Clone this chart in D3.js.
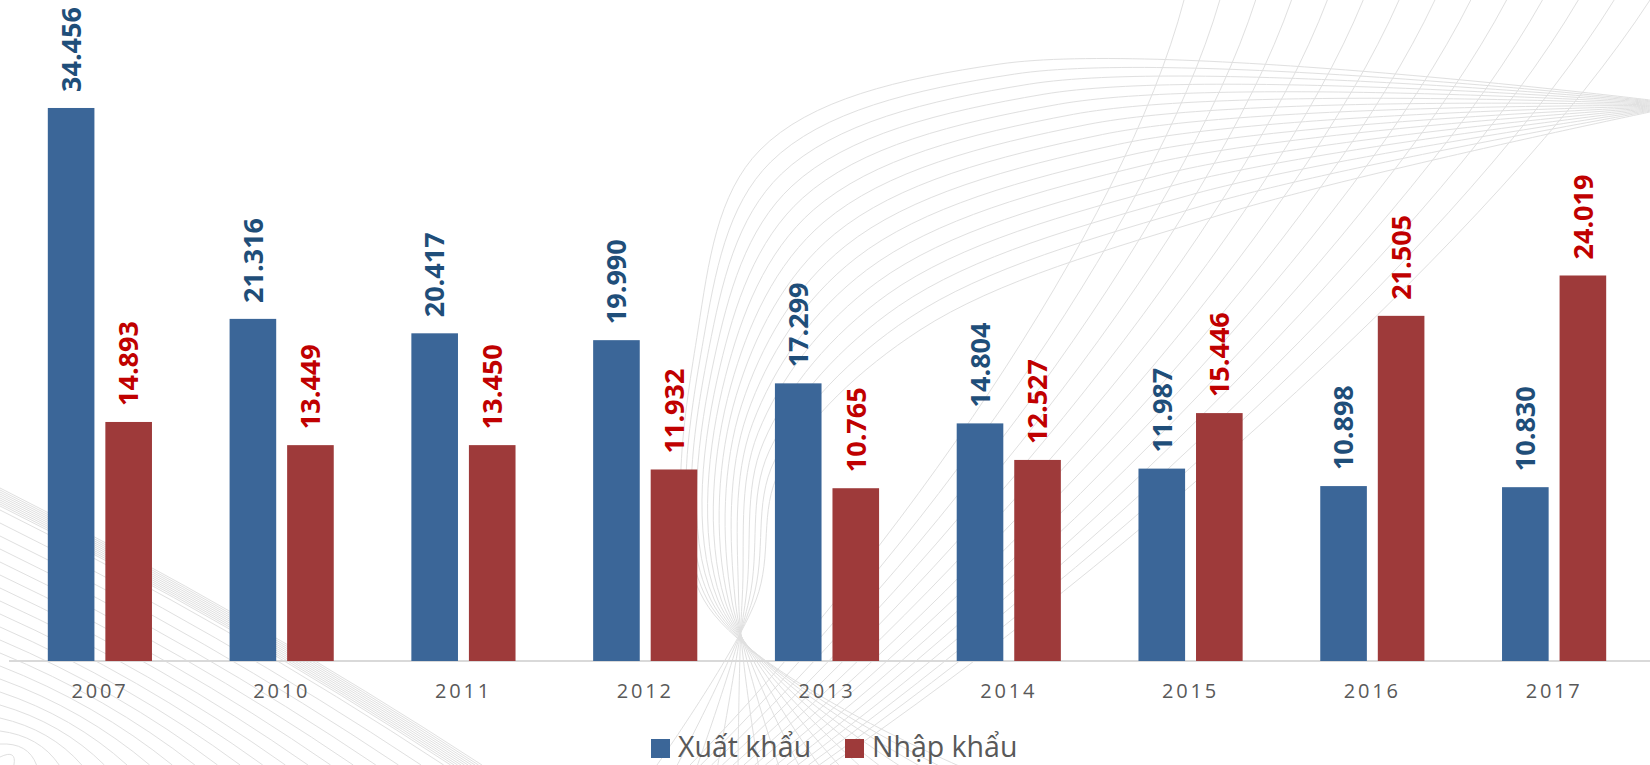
<!DOCTYPE html>
<html>
<head>
<meta charset="utf-8">
<script src="https://cdn.jsdelivr.net/npm/d3@7"></script>
<style>
  html, body { margin: 0; padding: 0; background: #fff; }
  svg { display: block; font-family: "Open Sans", "Noto Sans", sans-serif; }
</style>
</head>
<body>
<svg id="chart" width="1650" height="765"></svg>
<script>
// data
const years = ['2007', '2010', '2011', '2012', '2013', '2014', '2015', '2016', '2017'];
const exportVals = [34.456, 21.316, 20.417, 19.990, 17.299, 14.804, 11.987, 10.898, 10.830];
const importVals = [14.893, 13.449, 13.450, 11.932, 10.765, 12.527, 15.446, 21.505, 24.019];
const seriesNames = ['Xuất khẩu', 'Nhập khẩu'];

const barColors = ['#3b6698', '#9e3a3a'];
const labelColors = ['#1f4e79', '#c00000'];

const width = 1650, height = 765;
const svg = d3.select('#chart');
svg.append('rect').attr('width', width).attr('height', height).attr('fill', '#fff');

const lerp = (a, b, t) => a + (b - a) * t;

// decorative background mesh
const deco = svg.append('g')
  .attr('fill', 'none')
  .attr('stroke', '#d6d6d6')
  .attr('stroke-width', 1)
  .attr('opacity', 0.75);

// left fan
for (let k = 0; k < 30; k++) {
  const y0 = k < 10 ? 488 + k * 2 : 510 + (k - 10) * 13;
  const x1 = (765 - y0) * 1.74;
  const p = d3.path();
  p.moveTo(0, y0);
  p.quadraticCurveTo(x1 * 0.5 + 10, lerp(y0, 765, 0.5) - 12, x1, 765);
  deco.append('path').attr('d', p.toString());
}

// twisted family: arcs from the right edge, down through a loose waist, fanning out at the bottom
const smooth = d3.line().curve(d3.curveCatmullRom.alpha(0.5));
for (let i = 0; i < 16; i++) {
  const t = i / 15;
  const pts = [
    [1650, lerp(100, 112, t)],
    [lerp(1000, 1220, t), lerp(64, 215, t)],
    [lerp(760, 920, t), lerp(150, 330, t)],
    [lerp(698, 780, t), lerp(330, 470, t)],
    [lerp(704, 756, t), 600],
    [lerp(980, 650, t), 775]
  ];
  deco.append('path').attr('d', smooth(pts));
}

// steep family running to the top edge
for (let j = 0; j < 14; j++) {
  const s = j / 13;
  const x0 = lerp(690, 830, s), x3 = lerp(1184, 1650, s);
  const p = d3.path();
  p.moveTo(x0, 765);
  p.bezierCurveTo(x0 + lerp(200, 300, s), 560, x3 - lerp(60, 150, s), 230, x3, 0);
  deco.append('path').attr('d', p.toString());
}

// scales
const x0 = d3.scaleBand()
  .domain(years)
  .range([9, 1645])
  .paddingInner(0.427)
  .paddingOuter(0.2135);

const x1 = d3.scaleBand()
  .domain([0, 1])
  .range([0, x0.bandwidth()])
  .paddingInner(0.19);

const y = d3.scaleLinear().domain([0, 40]).range([661, 19]);

const rows = years.map((yr, i) => ({ year: yr, vals: [exportVals[i], importVals[i]] }));

// axis line + labels
const xAxis = svg.append('g')
  .attr('transform', `translate(0,${y(0)})`)
  .call(d3.axisBottom(x0).tickSize(0).tickPadding(37));
xAxis.select('.domain').attr('stroke', '#d9d9d9').attr('stroke-width', 2).attr('d', `M9,0H1650`);
xAxis.selectAll('text')
  .attr('font-family', '"Open Sans", sans-serif')
  .attr('font-size', 20)
  .attr('fill', '#595959')
  .attr('letter-spacing', '2.8px')
  .attr('dy', 0);

// bars
const groups = svg.append('g').selectAll('g')
  .data(rows)
  .join('g')
  .attr('transform', d => `translate(${x0(d.year)},0)`);

groups.selectAll('rect')
  .data(d => d.vals.map((v, s) => ({ v, s })))
  .join('rect')
  .attr('x', d => x1(d.s))
  .attr('width', x1.bandwidth())
  .attr('y', d => y(d.v))
  .attr('height', d => y(0) - y(d.v))
  .attr('fill', d => barColors[d.s]);

groups.selectAll('text')
  .data(d => d.vals.map((v, s) => ({ v, s })))
  .join('text')
  .attr('transform', d => `translate(${x1(d.s) + x1.bandwidth() / 2},${y(d.v) - 16}) rotate(-90)`)
  .attr('dy', '0.36em')
  .attr('text-anchor', 'start')
  .attr('font-size', 27)
  .attr('font-weight', 700)
  .attr('fill', d => labelColors[d.s])
  .text(d => d3.format('.3f')(d.v));

// legend
const legend = svg.append('g').attr('transform', 'translate(651,739)');
const items = legend.selectAll('g')
  .data(seriesNames)
  .join('g')
  .attr('transform', (d, i) => `translate(${i * 194},0)`);
items.append('rect')
  .attr('width', 19).attr('height', 19)
  .attr('fill', (d, i) => barColors[i]);
items.append('text')
  .attr('x', 27).attr('y', 18)
  .attr('font-size', 28.5)
  .attr('fill', '#595959')
  .text(d => d);
</script>
</body>
</html>
